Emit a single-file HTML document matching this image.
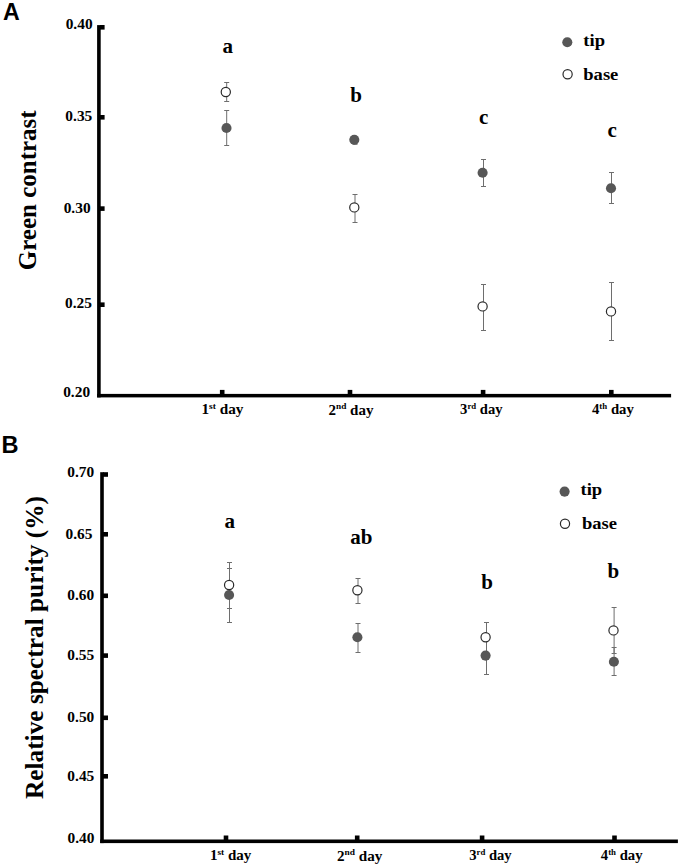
<!DOCTYPE html>
<html><head><meta charset="utf-8"><title>Figure</title>
<style>
html,body{margin:0;padding:0;background:#fff;}
body{width:682px;height:868px;overflow:hidden;}
svg{position:absolute;left:0;top:0;display:block;font-family:"Liberation Serif",serif;font-weight:bold;fill:#000;}
</style></head><body>
<svg width="682" height="868" viewBox="0 0 682 868">
<rect x="0" y="0" width="682" height="868" fill="#fff"/>
<text x="3.1" y="19.7" font-family="Liberation Sans, sans-serif" font-size="23.2" font-weight="bold">A</text>
<rect x="97.10" y="25.10" width="3.60" height="372.30" fill="#000"/>
<rect x="97.10" y="393.90" width="574.00" height="3.50" fill="#000"/>
<rect x="100.00" y="25.00" width="4.60" height="4.60" fill="#000"/>
<rect x="100.00" y="115.00" width="4.60" height="4.60" fill="#000"/>
<rect x="100.00" y="206.30" width="4.60" height="4.60" fill="#000"/>
<rect x="100.00" y="302.40" width="4.60" height="4.60" fill="#000"/>
<rect x="219.90" y="389.90" width="4.60" height="5.00" fill="#000"/>
<rect x="347.70" y="389.90" width="4.60" height="5.00" fill="#000"/>
<rect x="480.80" y="389.90" width="4.60" height="5.00" fill="#000"/>
<rect x="609.00" y="389.90" width="4.60" height="5.00" fill="#000"/>
<text transform="translate(92.60 29.40) scale(1.1 1.0)" font-size="14.0" text-anchor="end" >0.40</text>
<text transform="translate(92.30 121.40) scale(1.1 1.0)" font-size="14.0" text-anchor="end" >0.35</text>
<text transform="translate(90.60 213.40) scale(1.1 1.0)" font-size="14.0" text-anchor="end" >0.30</text>
<text transform="translate(92.00 308.40) scale(1.1 1.0)" font-size="14.0" text-anchor="end" >0.25</text>
<text transform="translate(90.10 397.20) scale(1.1 1.0)" font-size="14.0" text-anchor="end" >0.20</text>
<text transform="translate(201.50 414.00) scale(1.05 1)" font-size="14.5">1<tspan font-size="8.99" dy="-5.22">st</tspan><tspan dy="5.22"> day</tspan></text>
<text transform="translate(328.50 414.70) scale(1.035 1)" font-size="14.5">2<tspan font-size="8.99" dy="-5.22">nd</tspan><tspan dy="5.22"> day</tspan></text>
<text transform="translate(460.10 414.00) scale(1.05 1)" font-size="13.9">3<tspan font-size="8.34" dy="-5.00">rd</tspan><tspan dy="5.00"> day</tspan></text>
<text transform="translate(592.00 414.00) scale(1.06 1)" font-size="13.9">4<tspan font-size="8.34" dy="-5.00">th</tspan><tspan dy="5.00"> day</tspan></text>
<text transform="translate(36.2 190.3) rotate(-90) scale(1 1.04)" font-size="25" text-anchor="middle">Green contrast</text>
<text transform="translate(227.70 53.00) scale(1.0 1.0)" font-size="21" text-anchor="middle" >a</text>
<text transform="translate(356.00 102.00) scale(1.0 1.0)" font-size="21" text-anchor="middle" >b</text>
<text transform="translate(483.60 123.50) scale(1.0 1.0)" font-size="21" text-anchor="middle" >c</text>
<text transform="translate(612.20 137.00) scale(1.0 1.0)" font-size="21" text-anchor="middle" >c</text>
<path d="M226.70 82.50V101.50M224.20 82.50H229.20M224.20 101.50H229.20" stroke="#6e6e6e" stroke-width="1.0" fill="none"/>
<circle cx="225.80" cy="92.00" r="4.6" fill="#fff" stroke="#2a2a2a" stroke-width="1.2"/>
<path d="M226.70 110.50V145.50M224.20 110.50H229.20M224.20 145.50H229.20" stroke="#6e6e6e" stroke-width="1.0" fill="none"/>
<circle cx="226.50" cy="128.00" r="5.05" fill="#575757"/>
<path d="M352.50 144.30H357.50" stroke="#6e6e6e" stroke-width="1.0" fill="none"/>
<circle cx="354.30" cy="139.70" r="5.05" fill="#575757"/>
<path d="M355.00 194.50V222.50M352.50 194.50H357.50M352.50 222.50H357.50" stroke="#6e6e6e" stroke-width="1.0" fill="none"/>
<circle cx="354.30" cy="207.40" r="4.6" fill="#fff" stroke="#2a2a2a" stroke-width="1.2"/>
<path d="M483.50 159.50V186.50M481.00 159.50H486.00M481.00 186.50H486.00" stroke="#6e6e6e" stroke-width="1.0" fill="none"/>
<circle cx="482.60" cy="172.70" r="5.05" fill="#575757"/>
<path d="M483.50 284.50V330.50M481.00 284.50H486.00M481.00 330.50H486.00" stroke="#6e6e6e" stroke-width="1.0" fill="none"/>
<circle cx="482.60" cy="306.40" r="4.6" fill="#fff" stroke="#2a2a2a" stroke-width="1.2"/>
<path d="M611.50 172.50V203.50M609.00 172.50H614.00M609.00 203.50H614.00" stroke="#6e6e6e" stroke-width="1.0" fill="none"/>
<circle cx="611.00" cy="188.30" r="5.05" fill="#575757"/>
<path d="M611.50 282.50V340.50M609.00 282.50H614.00M609.00 340.50H614.00" stroke="#6e6e6e" stroke-width="1.0" fill="none"/>
<circle cx="611.00" cy="311.40" r="4.6" fill="#fff" stroke="#2a2a2a" stroke-width="1.2"/>
<circle cx="567.30" cy="42.30" r="5.05" fill="#575757"/>
<text transform="translate(583.30 46.00) scale(1.055 1.0)" font-size="17.6" text-anchor="start" >tip</text>
<circle cx="567.60" cy="74.20" r="4.6" fill="#fff" stroke="#2a2a2a" stroke-width="1.2"/>
<text transform="translate(583.30 79.80) scale(1.055 1.0)" font-size="17.6" text-anchor="start" >base</text>
<text x="1.4" y="452.9" font-family="Liberation Sans, sans-serif" font-size="23.6" font-weight="bold">B</text>
<rect x="100.20" y="472.20" width="3.60" height="370.90" fill="#000"/>
<rect x="100.20" y="839.50" width="577.70" height="3.60" fill="#000"/>
<rect x="103.00" y="472.20" width="5.00" height="4.60" fill="#000"/>
<rect x="103.00" y="532.00" width="5.00" height="4.60" fill="#000"/>
<rect x="103.00" y="593.50" width="5.00" height="4.60" fill="#000"/>
<rect x="103.00" y="653.30" width="5.00" height="4.60" fill="#000"/>
<rect x="103.00" y="715.50" width="5.00" height="4.60" fill="#000"/>
<rect x="103.00" y="774.00" width="5.00" height="4.60" fill="#000"/>
<rect x="223.70" y="835.50" width="4.60" height="5.00" fill="#000"/>
<rect x="354.90" y="835.50" width="4.60" height="5.00" fill="#000"/>
<rect x="479.80" y="835.50" width="4.60" height="5.00" fill="#000"/>
<rect x="612.20" y="835.50" width="4.60" height="5.00" fill="#000"/>
<text transform="translate(94.20 477.40) scale(1.1 1.0)" font-size="14.0" text-anchor="end" >0.70</text>
<text transform="translate(92.40 538.60) scale(1.1 1.0)" font-size="14.0" text-anchor="end" >0.65</text>
<text transform="translate(94.20 600.20) scale(1.1 1.0)" font-size="14.0" text-anchor="end" >0.60</text>
<text transform="translate(94.20 660.10) scale(1.1 1.0)" font-size="14.0" text-anchor="end" >0.55</text>
<text transform="translate(94.30 722.20) scale(1.1 1.0)" font-size="14.0" text-anchor="end" >0.50</text>
<text transform="translate(94.30 780.60) scale(1.1 1.0)" font-size="14.0" text-anchor="end" >0.45</text>
<text transform="translate(94.50 843.40) scale(1.1 1.0)" font-size="14.0" text-anchor="end" >0.40</text>
<text transform="translate(210.00 860.30) scale(1.035 1)" font-size="14.5">1<tspan font-size="8.99" dy="-5.22">st</tspan><tspan dy="5.22"> day</tspan></text>
<text transform="translate(336.90 860.50) scale(1.045 1)" font-size="14.5">2<tspan font-size="8.99" dy="-5.22">nd</tspan><tspan dy="5.22"> day</tspan></text>
<text transform="translate(469.20 860.30) scale(1.05 1)" font-size="13.9">3<tspan font-size="8.34" dy="-5.00">rd</tspan><tspan dy="5.00"> day</tspan></text>
<text transform="translate(600.80 860.20) scale(1.05 1)" font-size="14.0">4<tspan font-size="8.40" dy="-5.04">th</tspan><tspan dy="5.04"> day</tspan></text>
<text transform="translate(42.5 647.5) rotate(-90) scale(1.0134 1)" font-size="25" text-anchor="middle">Relative spectral purity (%)</text>
<text transform="translate(229.80 527.60) scale(1.0 1.0)" font-size="21" text-anchor="middle" >a</text>
<text transform="translate(361.30 543.60) scale(1.0 1.0)" font-size="21" text-anchor="middle" >ab</text>
<text transform="translate(487.00 589.20) scale(1.0 1.0)" font-size="21" text-anchor="middle" >b</text>
<text transform="translate(613.40 578.30) scale(1.0 1.0)" font-size="21" text-anchor="middle" >b</text>
<path d="M229.50 568.50V622.50M227.00 568.50H232.00M227.00 622.50H232.00" stroke="#6e6e6e" stroke-width="1.0" fill="none"/>
<path d="M229.50 562.50V608.50M227.00 562.50H232.00M227.00 608.50H232.00" stroke="#6e6e6e" stroke-width="1.0" fill="none"/>
<circle cx="229.10" cy="595.00" r="5.05" fill="#575757"/>
<circle cx="229.10" cy="585.00" r="4.6" fill="#fff" stroke="#2a2a2a" stroke-width="1.2"/>
<path d="M358.00 578.50V603.50M355.50 578.50H360.50M355.50 603.50H360.50" stroke="#6e6e6e" stroke-width="1.0" fill="none"/>
<circle cx="357.40" cy="590.20" r="4.6" fill="#fff" stroke="#2a2a2a" stroke-width="1.2"/>
<path d="M358.00 623.50V652.50M355.50 623.50H360.50M355.50 652.50H360.50" stroke="#6e6e6e" stroke-width="1.0" fill="none"/>
<circle cx="357.40" cy="637.30" r="5.05" fill="#575757"/>
<path d="M486.50 622.50V674.50M484.00 622.50H489.00M484.00 674.50H489.00" stroke="#6e6e6e" stroke-width="1.0" fill="none"/>
<circle cx="485.60" cy="655.60" r="5.05" fill="#575757"/>
<circle cx="485.60" cy="637.30" r="4.6" fill="#fff" stroke="#2a2a2a" stroke-width="1.2"/>
<path d="M614.10 607.50V653.50M611.60 607.50H616.60M611.60 653.50H616.60" stroke="#6e6e6e" stroke-width="1.0" fill="none"/>
<path d="M614.10 647.50V675.50M611.60 647.50H616.60M611.60 675.50H616.60" stroke="#6e6e6e" stroke-width="1.0" fill="none"/>
<circle cx="613.90" cy="661.70" r="5.05" fill="#575757"/>
<circle cx="613.50" cy="630.40" r="4.6" fill="#fff" stroke="#2a2a2a" stroke-width="1.2"/>
<circle cx="564.60" cy="491.60" r="5.05" fill="#575757"/>
<text transform="translate(580.50 495.20) scale(1.055 1.0)" font-size="17.6" text-anchor="start" >tip</text>
<circle cx="565.00" cy="523.70" r="4.6" fill="#fff" stroke="#2a2a2a" stroke-width="1.2"/>
<text transform="translate(582.00 529.00) scale(1.055 1.0)" font-size="17.6" text-anchor="start" >base</text>
</svg>
</body></html>
